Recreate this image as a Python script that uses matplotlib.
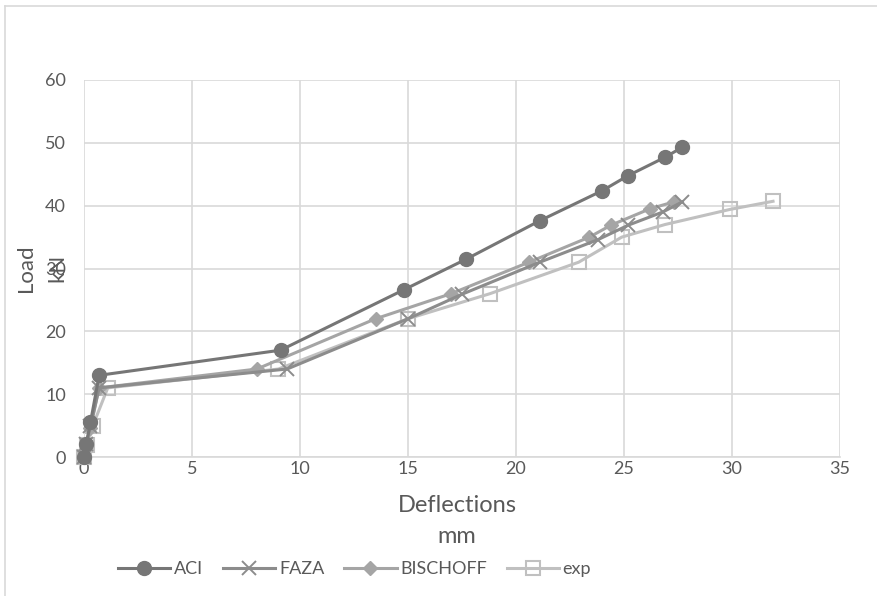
import matplotlib
matplotlib.use("Agg")
import matplotlib.pyplot as plt
from matplotlib.lines import Line2D

plt.rcParams['font.family'] = ['Lato', 'DejaVu Sans']

# data
aci_x = [0, 0.1, 0.3, 0.7, 9.1, 14.8, 17.7, 21.1, 24.0, 25.2, 26.9, 27.7]
aci_y = [0, 2, 5.5, 13.0, 17.0, 26.6, 31.5, 37.6, 42.4, 44.8, 47.7, 49.3]

faza_x = [0, 0.1, 0.3, 0.7, 9.4, 15.0, 17.5, 21.1, 23.8, 25.2, 26.8, 27.7]
faza_y = [0, 2, 5.0, 11.0, 14.0, 22.0, 25.9, 31.0, 34.6, 36.9, 39.0, 40.6]

bisc_x = [0, 0.1, 0.3, 0.7, 8.0, 13.5, 17.0, 20.6, 23.4, 24.4, 26.2, 27.3]
bisc_y = [0, 2, 4.6, 11.0, 14.0, 22.0, 26.0, 31.0, 35.0, 36.9, 39.5, 40.6]

exp_x = [0, 0.15, 0.4, 1.1, 9.0, 15.0, 18.8, 22.9, 24.9, 26.9, 29.9, 31.9]
exp_y = [0, 1.9, 4.9, 11.0, 14.0, 22.0, 26.0, 31.0, 35.0, 37.0, 39.4, 40.7]

xticks = [0, 5, 10, 15, 20, 25, 30, 35]
yticks = [0, 10, 20, 30, 40, 50, 60]

W, H = 877, 596
fig = plt.figure(figsize=(W / 100, H / 100), dpi=100)
ax = fig.add_axes([84 / W, 1 - 457 / H, 756 / W, 377 / H])

# light frame (top and left edges visible in the crop)
fy = 1 - 6 / H
fx = 4.5 / W
fig.add_artist(Line2D([fx, 1], [fy, fy], transform=fig.transFigure, color='#d9d9d9', lw=1.2))
fig.add_artist(Line2D([fx, fx], [0, fy], transform=fig.transFigure, color='#d9d9d9', lw=1.2))

lw = 2.2
ax.plot(aci_x, aci_y, color='#767676', lw=lw, marker='o', ms=10, label='ACI', zorder=5,
        clip_on=False)
ax.plot(faza_x, faza_y, color='#8c8c8c', lw=lw, marker='x', ms=10, mew=1.4, label='FAZA',
        zorder=4, clip_on=False)
ax.plot(bisc_x, bisc_y, color='#a5a5a5', lw=lw, marker='D', ms=7.5, label='BISCHOFF',
        zorder=3, clip_on=False)
ax.plot(exp_x, exp_y, color='#c0c0c0', lw=lw, marker='s', ms=10, mfc='none', mew=1.5,
        label='exp', zorder=2, clip_on=False)

ax.set_xlim(0, 35)
ax.set_ylim(0, 60)
ax.set_xticks(xticks)
ax.set_yticks(yticks)
ax.grid(True, color='#d9d9d9', lw=1.2)
ax.set_axisbelow(True)
for s in ['top', 'right', 'left']:
    ax.spines[s].set_visible(False)
ax.spines['bottom'].set_color('#d9d9d9')
ax.spines['bottom'].set_linewidth(1.2)
ax.tick_params(length=0, labelsize=13, labelcolor='#595959')
ax.tick_params(axis='y', pad=13)
ax.tick_params(axis='x', pad=3)

# axis titles placed like the original (they overlap the tick labels there too)
fig.text(42 / W, 1 - 268 / H, 'Load\nkN', rotation=90, ha='center', va='center',
         fontsize=16, color='#595959', linespacing=1.7)
fig.text(457 / W, 1 - 521 / H, 'Deflections\nmm', ha='center', va='center',
         fontsize=17, color='#595959', linespacing=1.6)

ax.legend(loc='center', bbox_to_anchor=(0.358, -0.297), ncol=4, frameon=False,
          fontsize=13, labelcolor='#595959', handlelength=2.9, columnspacing=1.1,
          handletextpad=0.2)

fig.savefig('out.png', dpi=100)
